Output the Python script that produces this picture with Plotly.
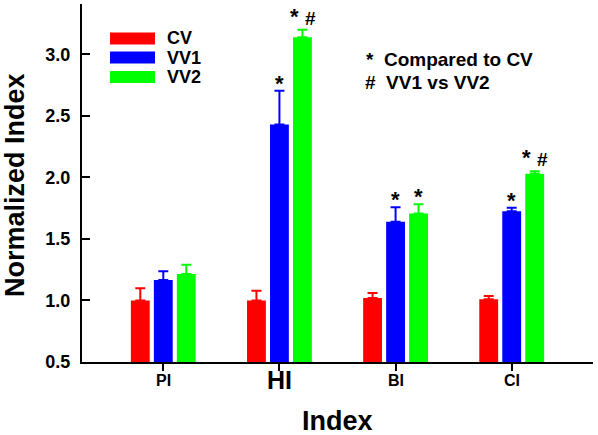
import plotly.graph_objects as go

# ---- data ----
categories = ["PI", "HI", "BI", "CI"]
series_names = ["CV", "VV1", "VV2"]
cv = [1.00, 1.00, 1.02, 1.01]
cv_err = [0.10, 0.08, 0.04, 0.027]
vv1 = [1.167, 2.43, 1.64, 1.725]
vv1_err = [0.07, 0.275, 0.117, 0.028]
vv2 = [1.215, 3.14, 1.708, 2.03]
vv2_err = [0.075, 0.06, 0.075, 0.02]
# significance marks: per series, per category
sig_vv1 = ["", "*", "*", "*"]
sig_vv2 = ["", "*#", "*", "*#"]
y_ticks = [0.5, 1.0, 1.5, 2.0, 2.5, 3.0]
x_label_sizes = [16, 25, 16, 16]
note_symbols = ["*", "#"]
note_texts = ["Compared to CV", "VV1 vs VV2"]

colors = ["#ff0000", "#0000ff", "#00ff00"]
FONT = "Liberation Sans, Arial, sans-serif"

values = [cv, vv1, vv2]
errors = [cv_err, vv1_err, vv2_err]

fig = go.Figure()
for name, v, e, c in zip(series_names, values, errors, colors):
    fig.add_trace(go.Bar(
        x=categories, y=v, name=name, marker=dict(color=c, line=dict(width=0)),
        error_y=dict(type="data", symmetric=False, array=e, arrayminus=[0] * len(e),
                     color=c, thickness=2, width=5),
        showlegend=False,
    ))

W, H = 598, 435
L, R, T, B = 82, 5, 4, 73
pw, ph = W - L - R, H - T - B


def px(x):
    return (x - L) / pw


def py(y):
    return (H - B - y) / ph


annotations = []
shapes = []
bar_step = 0.198
STAR = 22
for si, (sig, v, e) in enumerate(zip([sig_vv1, sig_vv2], [vv1, vv2], [vv1_err, vv2_err])):
    off = (si) * bar_step  # series 1 -> 0, series 2 -> +step
    for ci, s in enumerate(sig):
        if not s:
            continue
        top = v[ci] + e[ci]
        if len(s) == 1:
            annotations.append(dict(x=ci + off, y=top, xref="x", yref="y", text="<b>*</b>",
                                    showarrow=False, yanchor="bottom", yshift=-7,
                                    font=dict(family=FONT, size=STAR, color="black")))
        else:
            annotations.append(dict(x=ci + off, y=top, xref="x", yref="y", text="<b>*</b>",
                                    showarrow=False, yanchor="bottom", yshift=-1, xshift=-8,
                                    font=dict(family=FONT, size=STAR, color="black")))
            annotations.append(dict(x=ci + off, y=top, xref="x", yref="y", text="<b>#</b>",
                                    showarrow=False, yanchor="bottom", yshift=-1, xshift=8,
                                    font=dict(family=FONT, size=19, color="black")))

# category labels
for ci, (lab, sz) in enumerate(zip(categories, x_label_sizes)):
    annotations.append(dict(x=ci, y=0, xref="x", yref="paper", text="<b>%s</b>" % lab,
                            showarrow=False, yanchor="top", yshift=-8 if sz < 20 else -2,
                            font=dict(family=FONT, size=sz, color="black")))

# axis titles
annotations.append(dict(x=px(15), y=py(185), xref="paper", yref="paper",
                        text="<b>Normalized Index</b>", textangle=-90, showarrow=False,
                        xanchor="center", yanchor="middle",
                        font=dict(family=FONT, size=27, color="black")))
annotations.append(dict(x=px(337), y=py(421), xref="paper", yref="paper",
                        text="<b>Index</b>", showarrow=False,
                        xanchor="center", yanchor="middle",
                        font=dict(family=FONT, size=27, color="black")))

# legend
row_y = [38.5, 57.5, 77]
for name, c, ry in zip(series_names, colors, row_y):
    shapes.append(dict(type="rect", xref="paper", yref="paper",
                       x0=px(110), x1=px(155), y0=py(ry + 6), y1=py(ry - 6),
                       fillcolor=c, line=dict(width=0)))
    annotations.append(dict(x=px(165), y=py(ry), xref="paper", yref="paper",
                            text="<b>%s</b>" % name, showarrow=False,
                            xanchor="left", yanchor="middle",
                            font=dict(family=FONT, size=18, color="black")))

# notes (symbol and text in one line each)
note_y = [59, 82]
note_x = [364, 363]
for sym, txt, nx, ny in zip(note_symbols, note_texts, note_x, note_y):
    annotations.append(dict(x=px(nx), y=py(ny), xref="paper", yref="paper",
                            text="<b>%s\u00a0\u00a0%s</b>" % (sym, txt), showarrow=False,
                            xanchor="left", yanchor="middle",
                            font=dict(family=FONT, size=19, color="black")))

fig.update_layout(
    width=W, height=H,
    margin=dict(l=L, r=R, t=T, b=B, pad=0, autoexpand=False),
    paper_bgcolor="white", plot_bgcolor="white",
    barmode="group", bargap=0.406, bargroupgap=0.18,
    annotations=annotations, shapes=shapes,
    font=dict(family=FONT, color="black"),
)
fig.update_xaxes(
    range=[-0.7, 3.7], showline=True, linecolor="black", linewidth=2,
    ticks="outside", ticklen=7, tickwidth=2, tickcolor="black",
    showticklabels=False, showgrid=False, zeroline=False, automargin=False,
)
fig.update_yaxes(
    range=[0.5, 3.41], showline=True, linecolor="black", linewidth=2,
    ticks="inside", ticklen=8, tickwidth=2, tickcolor="black",
    tickvals=y_ticks, ticktext=["<b>%.1f</b>" % t for t in y_ticks],
    tickfont=dict(family=FONT, size=18, color="black"),
    ticklabelstandoff=6,
    showgrid=False, zeroline=False, automargin=False,
)

fig.write_html(
    "out.html",
    config={"displayModeBar": False},
    post_script="document.body.style.margin='0';document.body.style.overflow='hidden';",
)
